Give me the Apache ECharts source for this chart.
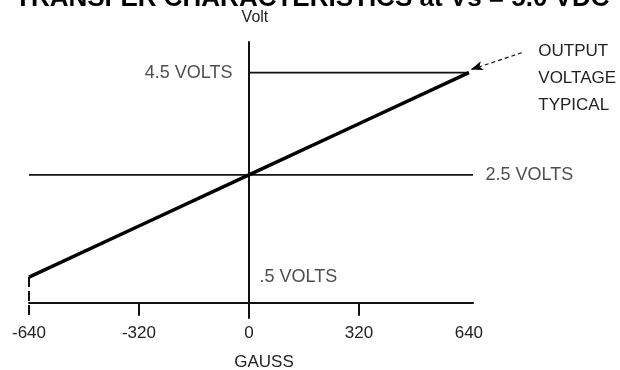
<!DOCTYPE html>
<html>
<head>
<meta charset="utf-8">
<script src="https://cdn.jsdelivr.net/npm/echarts@6/dist/echarts.min.js"></script>
<style>
  html, body { margin: 0; padding: 0; background: #fff; }
  #chart { width: 620px; height: 370px; }
</style>
</head>
<body>
<div id="chart"></div>
<script>
// x axis (gauss) labels and tick marks
const gaussLabels = [-640, -320, 0, 320, 640]
const gaussTickMarks = [-320, 0, 320]

// typical output voltage curve
const outputGauss = [-640, -320, 0, 320, 640]
const outputVolts = [0.5, 1.5, 2.5, 3.5, 4.5]

// reference levels
const line45Gauss = [0, 640]
const line25Gauss = [-640, 652]
const levelGauss = [0, 652, 0]
const levelVolts = [4.5, 2.5, 0.5]
const levelNames = ['4.5 VOLTS', '2.5 VOLTS', '.5 VOLTS']

// dashed drop at the left end of the curve
const dropGauss = [-640, -640]
const dropVolts = [0.5, -0.3]

// leader from the note to the curve end
const leaderGauss = [794, 646]
const leaderVolts = [4.89, 4.56]
const noteLines = ['OUTPUT', 'VOLTAGE', 'TYPICAL']

const FONT = 'Liberation Sans, Arial, sans-serif'
const INK = '#111'

const pairs = (xs, ys) => xs.map((x, i) => [x, Array.isArray(ys) ? ys[i] : ys])

// main plot: -640..652 gauss over 444px; the note grid keeps the same scale
const X_MIN = -640, X_MAX = 652, NOTE_MAX = 1000
const LEFT = 29, PLOT_W = 444
const noteRight = 620 - LEFT - (NOTE_MAX - X_MIN) * PLOT_W / (X_MAX - X_MIN)

const chart = echarts.init(document.getElementById('chart'), null, { renderer: 'canvas' })

const levelAnchors = [
  { position: 'left', distance: 16 },
  { position: 'right', distance: 12 },
  { position: 'right', distance: 10 },
]

const hiddenAxis = {
  axisLine: { show: false }, axisTick: { show: false },
  axisLabel: { show: false }, splitLine: { show: false },
}

const option = {
  animation: false,
  backgroundColor: '#fff',
  title: {
    text: 'TRANSFER CHARACTERISTICS at Vs = 5.0 VDC',
    left: 15, top: -14, padding: 0,
    textStyle: { fontFamily: FONT, fontSize: 26, fontWeight: 'bold', color: '#000' },
  },
  grid: [
    { left: LEFT, right: 620 - LEFT - PLOT_W, top: 42, bottom: 52, containLabel: false, outerBoundsMode: 'none' },
    { left: LEFT, right: noteRight, top: 42, bottom: 52, containLabel: false, outerBoundsMode: 'none' },
  ],
  xAxis: [
    {
      type: 'value', gridIndex: 0,
      min: X_MIN, max: X_MAX,
      axisLine: { onZero: true, lineStyle: { color: INK, width: 2 } },
      axisTick: { customValues: gaussTickMarks, length: 13, lineStyle: { color: INK, width: 2 } },
      axisLabel: { customValues: gaussLabels, margin: 7, fontSize: 17, fontFamily: FONT, color: '#222' },
      splitLine: { show: false },
      name: 'GAUSS', nameLocation: 'middle', nameGap: 36,
      nameTextStyle: { fontSize: 17, fontFamily: FONT, color: '#222', padding: [0, 0, 0, 26] },
    },
    { type: 'value', gridIndex: 1, min: X_MIN, max: NOTE_MAX, ...hiddenAxis },
  ],
  yAxis: [
    {
      type: 'value', gridIndex: 0,
      min: -0.3, max: 5.1,
      axisLine: { onZero: true, lineStyle: { color: INK, width: 2 } },
      axisTick: { show: false },
      axisLabel: { show: false },
      splitLine: { show: false },
      name: 'Volt', nameLocation: 'end', nameGap: 16,
      nameTextStyle: { fontSize: 16, fontFamily: FONT, color: '#222', padding: [0, 0, 0, 12] },
    },
    { type: 'value', gridIndex: 1, min: -0.3, max: 5.1, ...hiddenAxis },
  ],
  series: [
    // ── typical output curve ──
    {
      type: 'line', data: pairs(outputGauss, outputVolts),
      showSymbol: false, clip: false, z: 5,
      lineStyle: { color: '#000', width: 3.5 },
    },
    // ── 4.5 V level ──
    {
      type: 'line', data: pairs(line45Gauss, 4.5),
      symbol: 'none', clip: false,
      lineStyle: { color: INK, width: 1.8 },
    },
    // ── 2.5 V level ──
    {
      type: 'line', data: pairs(line25Gauss, 2.5),
      symbol: 'none', clip: false,
      lineStyle: { color: INK, width: 1.8 },
    },
    // ── dashed drop at -640 ──
    {
      type: 'line', data: pairs(dropGauss, dropVolts),
      symbol: 'none', clip: false,
      lineStyle: { color: INK, width: 2, type: [10, 4] },
    },
    // ── leader with arrow + note (wide grid, same scale) ──
    {
      type: 'line', xAxisIndex: 1, yAxisIndex: 1, z: 6,
      data: pairs(leaderGauss, leaderVolts).map((p, i) => i === 0 ? {
        value: p, symbol: 'circle', symbolSize: 1,
        itemStyle: { color: 'rgba(0,0,0,0)' },
        label: {
          show: true, position: 'right', distance: 16, offset: [0, 26],
          formatter: noteLines.join('\n'), align: 'left',
          fontSize: 17, lineHeight: 27, fontFamily: FONT, color: '#222',
        },
      } : {
        value: p, symbol: 'arrow', symbolSize: [7, 12], symbolRotate: 109,
        itemStyle: { color: '#000' },
      }),
      showSymbol: true,
      lineStyle: { color: INK, width: 1.2, type: [4, 3] },
    },
    // ── level captions ──
    {
      type: 'scatter', clip: false, symbolSize: 1,
      itemStyle: { color: 'rgba(0,0,0,0)' },
      data: pairs(levelGauss, levelVolts).map((p, i) => ({
        value: p,
        label: {
          show: true, formatter: levelNames[i],
          position: levelAnchors[i].position, distance: levelAnchors[i].distance,
          fontSize: 18, fontFamily: FONT, color: '#222',
        },
      })),
    },
  ],
}

chart.setOption(option)
</script>
</body>
</html>
